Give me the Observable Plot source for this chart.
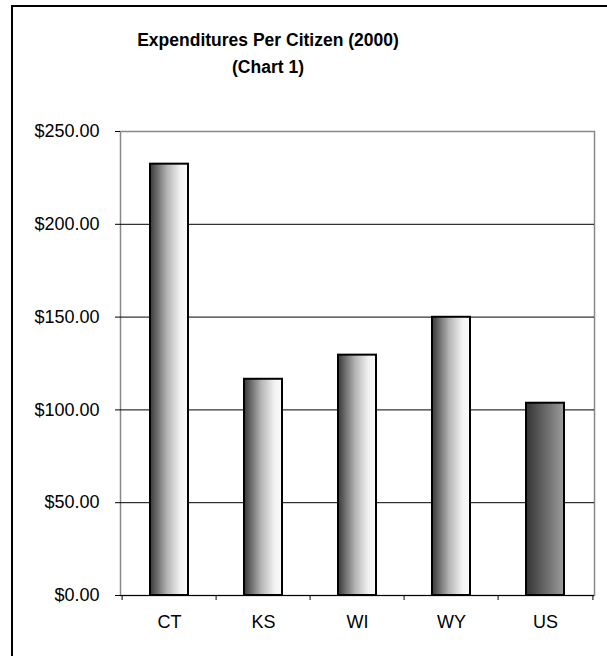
<!DOCTYPE html>
<html>
<head>
<meta charset="utf-8">
<script src="https://cdn.jsdelivr.net/npm/d3@7"></script>
<script src="https://cdn.jsdelivr.net/npm/@observablehq/plot@0.6"></script>
<style>
  html, body { margin: 0; padding: 0; background: #fff; }
  #wrap { position: relative; width: 607px; height: 656px; overflow: hidden; background: #fff;
          font-family: "Liberation Sans", Arial, sans-serif; }
  #border { position: absolute; left: 11px; top: 5px; width: 800px; height: 800px;
            border: 2px solid #000; box-sizing: border-box; }
  #title { position: absolute; left: 0; top: 27px; width: 536px; text-align: center;
           font-weight: bold; font-size: 17.5px; line-height: 26.6px; color: #000; }
  #chart { position: absolute; left: 0; top: 0; }
</style>
</head>
<body>
<div id="wrap">
  <div id="border"></div>
  <div id="chart"></div>
  <div id="title">Expenditures Per Citizen (2000)<br>(Chart 1)</div>
</div>
<script>
const states = ["CT", "KS", "WI", "WY", "US"];
const values = [232.4, 116.5, 129.5, 149.9, 103.6];
const gradients = ["state", "state", "state", "state", "nation"];
const yTicks = [0, 50, 100, 150, 200, 250];
const gridValues = [50, 100, 150, 200];

const data = states.map((s, i) => ({state: s, value: values[i], kind: gradients[i]}));

const W = 607, H = 656;
const mL = 120, mR = 13, mT = 131, mB = 61;
const padIn = 0.6, padOut = 0.3;
const step = (W - mL - mR) / (states.length - padIn + 2 * padOut);

const defs = () => {
  const g = d3.create("svg:defs");
  const a = g.append("linearGradient").attr("id", "gState").attr("x1", 0).attr("x2", 1).attr("y1", 0).attr("y2", 0);
  a.append("stop").attr("offset", 0).attr("stop-color", "#383838");
  a.append("stop").attr("offset", 0.45).attr("stop-color", "#b4b4b4");
  a.append("stop").attr("offset", 0.8).attr("stop-color", "#f2f2f2");
  a.append("stop").attr("offset", 1).attr("stop-color", "#fbfbfb");
  const b = g.append("linearGradient").attr("id", "gNation").attr("x1", 0).attr("x2", 1).attr("y1", 0).attr("y2", 0);
  b.append("stop").attr("offset", 0).attr("stop-color", "#333333");
  b.append("stop").attr("offset", 1).attr("stop-color", "#9c9c9c");
  return g.node();
};

const chart = Plot.plot({
  width: W,
  height: H,
  marginLeft: mL,
  marginRight: mR,
  marginTop: mT,
  marginBottom: mB,
  style: {fontFamily: "'Liberation Sans', Arial, sans-serif", fontSize: "18px", color: "#000", background: "transparent"},
  x: {domain: states, paddingInner: padIn, paddingOuter: padOut, axis: null},
  y: {domain: [0, 250], axis: null},
  color: {type: "identity"},
  marks: [
    defs,
    Plot.frame({stroke: "#888", strokeWidth: 1.5}),
    Plot.ruleY(gridValues, {stroke: "#000", strokeWidth: 1}),
    Plot.barY(data, {
      x: "state", y: "value",
      fill: d => d.kind === "nation" ? "url(#gNation)" : "url(#gState)",
      stroke: "#000", strokeWidth: 2
    }),
    Plot.axisY({ticks: yTicks, tickFormat: d => "$" + d.toFixed(2), tickSize: 5, tickPadding: 16, label: null, line: true, stroke: "#000"}),
    Plot.ruleY([0], {stroke: "#000", strokeWidth: 1}),
    Plot.axisX({tickSize: 0, tickPadding: 20, label: null}),
    Plot.ruleX(states, {x: d => d, y1: 0, y2: 0, insetBottom: -5, dx: -step / 2, stroke: "#000"}),
    Plot.ruleX(states.slice(-1), {x: d => d, y1: 0, y2: 0, insetBottom: -5, dx: step / 2, stroke: "#000"})
  ]
});
document.getElementById("chart").appendChild(chart);
</script>
</body>
</html>
